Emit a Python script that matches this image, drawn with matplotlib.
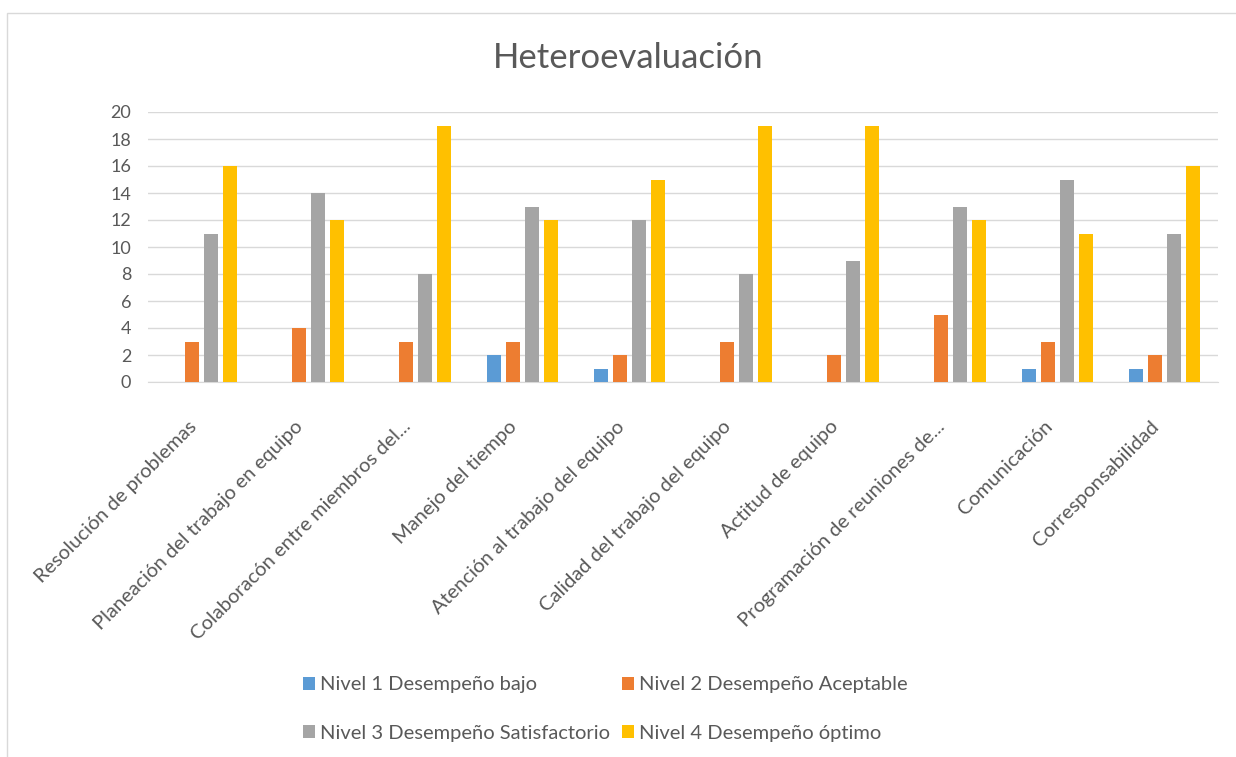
import numpy as np
import matplotlib
matplotlib.use("Agg")
import matplotlib.pyplot as plt
import matplotlib.transforms as mtransforms
from matplotlib.patches import Rectangle

plt.rcParams['font.family'] = ['Lato', 'DejaVu Sans']

categories = [
    "Resolución de problemas",
    "Planeación del trabajo en equipo",
    "Colaboracón entre miembros del...",
    "Manejo del tiempo",
    "Atención al trabajo del equipo",
    "Calidad del trabajo del equipo",
    "Actitud de equipo",
    "Programación de reuniones de...",
    "Comunicación",
    "Corresponsabilidad",
]
series_names = [
    "Nivel 1 Desempeño bajo",
    "Nivel 2 Desempeño Aceptable",
    "Nivel 3 Desempeño Satisfactorio",
    "Nivel 4 Desempeño óptimo",
]
nivel1 = [0, 0, 0, 2, 1, 0, 0, 0, 1, 1]
nivel2 = [3, 4, 3, 3, 2, 3, 2, 5, 3, 2]
nivel3 = [11, 14, 8, 13, 12, 8, 9, 13, 15, 11]
nivel4 = [16, 12, 19, 12, 15, 19, 19, 12, 11, 16]
colors = ["#5B9BD5", "#ED7D31", "#A5A5A5", "#FFC000"]
y_ticks = list(range(0, 21, 2))

fig = plt.figure(figsize=(12.36, 7.57), dpi=100)
# chart frame
fig.patches.append(Rectangle((7 / 1236, -0.01), 1.02, 1 - 13 / 757 + 0.01,
                             transform=fig.transFigure, fill=False,
                             edgecolor="#d9d9d9", linewidth=1.0))

ax = fig.add_axes([148 / 1236, 1 - 382 / 757, (1218 - 148) / 1236, (382 - 112) / 757])

x = np.arange(len(categories))
slot = 0.178
width = 0.13
handles = []
for i, (vals, c, name) in enumerate(zip([nivel1, nivel2, nivel3, nivel4], colors, series_names)):
    b = ax.bar(x + (i - 1.5) * slot, vals, width=width, color=c, label=name, zorder=3)
    handles.append(b)

ax.set_xlim(-0.5, len(categories) - 0.5)
ax.set_ylim(0, 20)
ax.set_yticks(y_ticks)
ax.yaxis.grid(True, color="#d9d9d9", linewidth=1.0, zorder=0)
for s in ["top", "right", "left"]:
    ax.spines[s].set_visible(False)
ax.spines["bottom"].set_color("#d9d9d9")
ax.tick_params(axis="both", length=0, colors="#595959", labelsize=13)
ax.tick_params(axis="y", pad=12)
ax.set_xticks(x)
ax.set_xticklabels(categories, rotation=45, ha="right", rotation_mode="anchor",
                   fontsize=14.5, color="#595959")
ax.tick_params(axis="x", pad=20)
# nudge the rotated category labels slightly left and down
shift = mtransforms.ScaledTranslation(-0.14, -0.08, fig.dpi_scale_trans)
for lbl in ax.get_xticklabels():
    lbl.set_transform(lbl.get_transform() + shift)

fig.text(0.508, 1 - 58 / 757, "Heteroevaluación", ha="center", va="center",
         fontsize=25, color="#595959")

order = [0, 2, 1, 3]
leg = fig.legend([handles[k] for k in order], [series_names[k] for k in order],
                 ncol=2, loc="center", bbox_to_anchor=(0.49, 1 - 709 / 757),
                 frameon=False, fontsize=14.5, handlelength=0.6, handleheight=0.6,
                 handletextpad=0.25, columnspacing=0.6, labelspacing=1.55,
                 labelcolor="#595959")

fig.savefig("out.png", dpi=100, facecolor="white")
